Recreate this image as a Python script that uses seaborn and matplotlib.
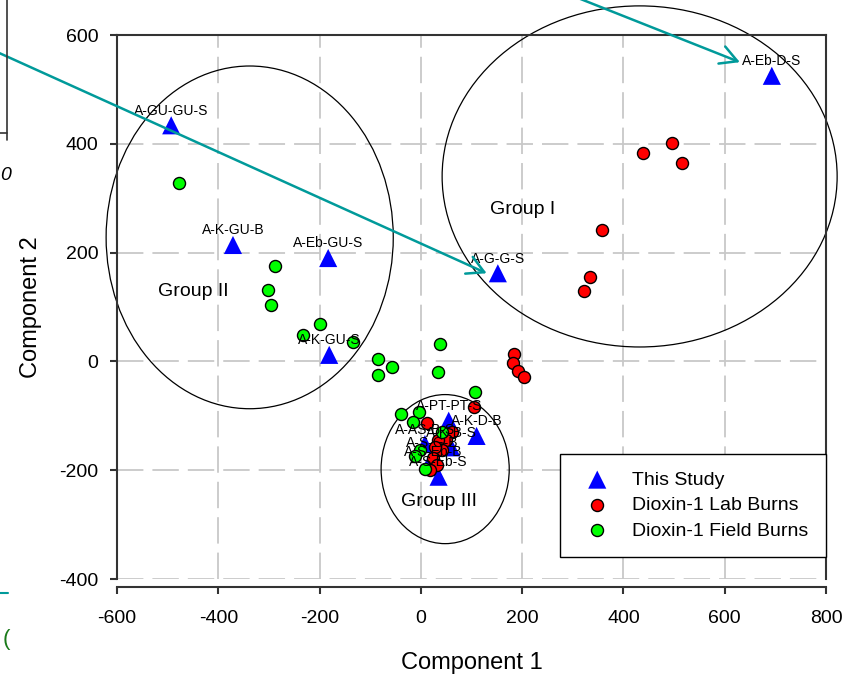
import numpy as np
import pandas as pd
import matplotlib
matplotlib.use("Agg")
import matplotlib.pyplot as plt
import seaborn as sns
from matplotlib.patches import Ellipse
from matplotlib.lines import Line2D

# ---------------- data ----------------
study_labels = ["A-Eb-D-S", "A-G-G-S", "A-GU-GU-S", "A-K-GU-B", "A-Eb-GU-S", "A-K-GU-S",
                "A-PT-PT-S", "A-K-D-B", "A-K-B-S", "A-AS-B-S", "A-S-G-B", "A-S-Eb-B", "A-S-Eb-S"]
study_x = [693, 152, -493, -371, -183, -181, 55, 110, 60, 8, 22, 24, 35]
study_y = [525, 162, 434, 214, 190, 12, -109, -137, -158, -152, -177, -194, -212]

lab_x = [438, 496, 516, 357, 334, 322, 184, 182, 192, 204, 105, 12, 62, 49, 34, 42, 28, 24, 32, 18]
lab_y = [383, 401, 365, 241, 155, 129, 14, -3, -18, -29, -84, -113, -130, -144, -145, -163, -157, -177, -190, -200]

field_x = [-478, -288, -301, -296, -233, -199, -134, -85, -57, -85, 38, 34, 107, -39, -4, -16, 41, -2, -12, 8]
field_y = [328, 175, 131, 104, 49, 69, 36, 4, -10, -25, 32, -19, -56, -97, -93, -111, -130, -163, -174, -198]

group_names = ["Group I", "Group II", "Group III"]
group_cx = [432, -338, 48]
group_cy = [340, 228, -198]
group_w = [780, 567, 253]
group_h = [627, 630, 274]
group_label_x = [200, -449, 36]
group_label_y = [280, 128, -257]

series_names = ["This Study", "Dioxin-1 Lab Burns", "Dioxin-1 Field Burns"]
x_ticks = [-600, -400, -200, 0, 200, 400, 600, 800]
y_ticks = [-400, -200, 0, 200, 400, 600]

# ---------------- style ----------------
sns.set_theme(style="white")
plt.rcParams['font.family'] = ['Liberation Sans', 'DejaVu Sans']
plt.rcParams['lines.scale_dashes'] = False
plt.rcParams['text.color'] = 'black'
plt.rcParams['axes.labelcolor'] = 'black'
plt.rcParams['xtick.color'] = 'black'
plt.rcParams['ytick.color'] = 'black'

W, H = 853, 677
fig = plt.figure(figsize=(W / 100, H / 100), dpi=100)
ax = fig.add_axes([117 / W, 1 - 579 / H, (826 - 117) / W, (579 - 35) / H])

study = pd.DataFrame({"x": study_x, "y": study_y, "label": study_labels})
lab = pd.DataFrame({"x": lab_x, "y": lab_y})
field = pd.DataFrame({"x": field_x, "y": field_y})

sns.scatterplot(data=study, x="x", y="y", marker="^", s=170, color="#0000ff",
                edgecolor="none", linewidth=0, ax=ax, zorder=3, label=series_names[0])
sns.scatterplot(data=lab, x="x", y="y", marker="o", s=75, color="#ff0000",
                edgecolor="black", linewidth=1.0, ax=ax, zorder=4, label=series_names[1])
sns.scatterplot(data=field, x="x", y="y", marker="o", s=75, color="#00ff00",
                edgecolor="black", linewidth=1.0, ax=ax, zorder=4, label=series_names[2])

for _, r in study.iterrows():
    ax.annotate(r["label"], xy=(r["x"], r["y"]), xytext=(0, 10.5), textcoords="offset points",
                ha="center", va="center", fontsize=10, color="black", zorder=6)

for name, cx, cy, w, h, lx, ly in zip(group_names, group_cx, group_cy, group_w, group_h,
                                      group_label_x, group_label_y):
    ax.add_patch(Ellipse((cx, cy), w, h, facecolor="none", edgecolor="black",
                         linewidth=0.9, clip_on=False, zorder=2))
    ax.text(lx, ly, name, ha="center", va="center", fontsize=14, color="black", zorder=6)

ax.set_xlim(-600, 800)
ax.set_ylim(-400, 600)
ax.set_xticks(x_ticks)
ax.set_yticks(y_ticks)
ax.set_xticklabels([str(v) for v in x_ticks])
ax.set_yticklabels([str(v) for v in y_ticks])

ax.set_axisbelow(True)
ax.grid(True, color="#c8c8c8", linewidth=1.3, dashes=(19, 6.5))

for s in ["top", "right", "left", "bottom"]:
    ax.spines[s].set_visible(True)
    ax.spines[s].set_color("#333333")
    ax.spines[s].set_linewidth(1.5)
ax.spines["bottom"].set_position(("outward", 6))

ax.tick_params(axis="both", which="major", direction="out", length=5, width=1.5,
               color="#333333", labelsize=14, bottom=True, left=True,
               top=False, right=False, labelcolor="black")
ax.tick_params(axis="x", pad=11)
ax.tick_params(axis="y", pad=8.5)

ax.set_xlabel("Component 1", fontsize=17, labelpad=18, color="black")
ax.set_ylabel("Component 2", fontsize=17, labelpad=12, color="black")

leg = ax.legend(loc="lower right", bbox_to_anchor=(1.0, 22 / 544), borderaxespad=0,
                frameon=True, fancybox=False, shadow=False, edgecolor="black",
                framealpha=1, fontsize=14, borderpad=0.9, labelspacing=0.4,
                handletextpad=0.8, handlelength=2.0)
leg.get_frame().set_linewidth(1.0)
leg.set_zorder(10)
for t in leg.get_texts():
    t.set_color("black")

# teal arrows (overlay from the source figure)
teal = "#009a9a"
ax.annotate("", xy=(130, 162), xycoords="data", xytext=(-3 / W, 1 - 52 / H),
            textcoords="figure fraction", annotation_clip=False,
            arrowprops=dict(arrowstyle="->,head_length=0.55,head_width=0.3", color=teal,
                            lw=1.8, mutation_scale=22, shrinkA=0, shrinkB=0), zorder=8)
ax.annotate("", xy=(630, 550), xycoords="data", xytext=(578 / W, 1 + 2 / H),
            textcoords="figure fraction", annotation_clip=False,
            arrowprops=dict(arrowstyle="->,head_length=0.55,head_width=0.3", color=teal,
                            lw=1.8, mutation_scale=22, shrinkA=0, shrinkB=0), zorder=8)

# stray fragments at left edge of the source crop
fig.add_artist(Line2D([7.5 / W, 7.5 / W], [1, 1 - 140 / H], transform=fig.transFigure,
                      color="#333333", lw=1.2))
fig.add_artist(Line2D([0, 7.5 / W], [1 - 133 / H, 1 - 133 / H], transform=fig.transFigure,
                      color="#333333", lw=1.2))
fig.add_artist(Line2D([0, 8 / W], [1 - 593 / H, 1 - 593 / H], transform=fig.transFigure,
                      color=teal, lw=1.5))
fig.text(6 / W, 1 - 175 / H, "0", fontsize=14, style="italic", ha="center", va="center")
fig.text(6 / W, 1 - 640 / H, "(", fontsize=16, color="#1a7a1a", ha="center", va="center")

fig.savefig("out.png", dpi=100)
